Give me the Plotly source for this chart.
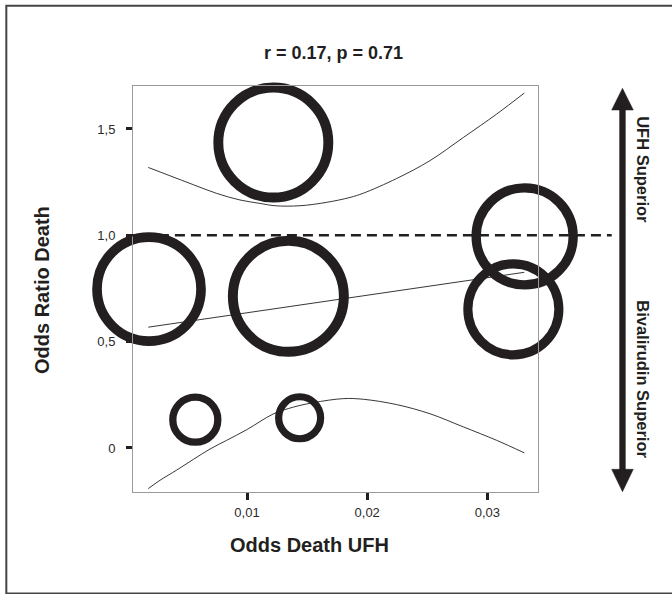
import plotly.graph_objects as go

# ---- data ----
odds_death_ufh = [0.01219, 0.00185, 0.01344, 0.00570, 0.01438, 0.03310, 0.03216]
odds_ratio_death = [1.436, 0.747, 0.713, 0.133, 0.142, 0.995, 0.652]
study_weight = [110, 104, 111, 45, 42, 97, 91]

fit_x = [0.00179, 0.03307]
fit_y = [0.568, 0.826]

ci_x = [0.00179, 0.00359, 0.00553, 0.00748, 0.00942, 0.01108, 0.01233, 0.01441,
        0.01663, 0.01857, 0.01968, 0.02245, 0.02522, 0.02800, 0.03077, 0.03307]
ci_upper = [1.319, 1.280, 1.238, 1.197, 1.166, 1.150, 1.139, 1.139,
            1.155, 1.178, 1.198, 1.267, 1.351, 1.460, 1.570, 1.669]
ci_lo_x = [0.00179, 0.00276, 0.00415, 0.00553, 0.00692, 0.00831, 0.00998, 0.01219, 0.01385,
           0.01552, 0.01801, 0.01968, 0.02245, 0.02522, 0.02800, 0.03077, 0.03307]
ci_lower = [-0.191, -0.152, -0.104, -0.054, -0.005, 0.036, 0.086, 0.160, 0.192,
            0.213, 0.232, 0.229, 0.204, 0.161, 0.099, 0.036, -0.023]

x_tickvals = [0.01, 0.02, 0.03]
x_ticktext = ["0,01", "0,02", "0,03"]
y_tickvals = [0, 0.5, 1.0, 1.5]
y_ticktext = ["0", "0,5", "1,0", "1,5"]
reference_or = 1.0

title_text = "r = 0.17, p = 0.71"
x_title = "Odds Death UFH"
y_title = "Odds Ratio Death"
upper_label = "UFH Superior"
lower_label = "Bivalirudin Superior"

# ---- styling ----
INK = "#231f20"
FONT = "Liberation Sans, Arial, sans-serif"
x_range = [0.000516, 0.03421]
y_range = [-0.207, 1.702]

fig = go.Figure()

for cx, cy in [(ci_x, ci_upper), (ci_lo_x, ci_lower), (fit_x, fit_y)]:
    fig.add_trace(go.Scatter(
        x=cx, y=cy, mode="lines",
        line=dict(color=INK, width=0.9, shape="spline", smoothing=1.0),
        hoverinfo="skip", showlegend=False))

fig.add_trace(go.Scatter(
    x=odds_death_ufh, y=odds_ratio_death, mode="markers",
    marker=dict(
        size=study_weight, sizemode="diameter", opacity=1,
        color="rgba(0,0,0,0)",
        line=dict(color=INK, width=[5.5 + w * 0.04 for w in study_weight]),
    ),
    cliponaxis=False, showlegend=False))

# reference line at OR = 1 (extends to the arrow)
y_ref_paper = (reference_or - y_range[0]) / (y_range[1] - y_range[0])
shapes = [
    dict(type="line", xref="paper", yref="paper", x0=-0.015, x1=1.182,
         y0=y_ref_paper, y1=y_ref_paper,
         line=dict(color=INK, width=2.6, dash="10px,6px")),
    # double arrow shaft
    dict(type="line", xref="paper", yref="paper", x0=1.2086, x1=1.2086,
         y0=0.05, y1=0.947, line=dict(color=INK, width=6.3)),
    # arrow heads
    dict(type="path", xref="paper", yref="paper",
         path="M 1.1819 0.9409 L 1.2353 0.9409 L 1.2086 0.9943 Z",
         fillcolor=INK, line=dict(color=INK, width=0.5)),
    dict(type="path", xref="paper", yref="paper",
         path="M 1.1819 0.0559 L 1.2353 0.0559 L 1.2086 0.0007 Z",
         fillcolor=INK, line=dict(color=INK, width=0.5)),
    # outer frame
    dict(type="rect", xref="paper", yref="paper", x0=-0.3128, x1=1.345,
         y0=-0.2497, y1=1.1975, line=dict(color="#444444", width=2)),
]

def label(text, x, y, size, angle=0):
    return dict(text="<b>%s</b>" % text, x=x, y=y, xref="paper", yref="paper",
                xanchor="center", yanchor="middle", showarrow=False,
                textangle=angle, font=dict(size=size, color=INK, family=FONT))

annotations = [
    label(title_text, 0.496, 1.082, 18),
    label(x_title, 0.437, -0.1305, 20),
    label(y_title, -0.2247, 0.4975, 20, -90),
    label(upper_label, 1.259, 0.793, 16.5, 90),
    label(lower_label, 1.259, 0.278, 16.5, 90),
]

axis_common = dict(
    showgrid=False, zeroline=False, showline=True, linecolor="#9a9a9a", linewidth=1,
    mirror=True, ticks="outside", tickcolor=INK, tickwidth=3,
    tickfont=dict(size=13, color="#2a2a2a", family=FONT),
)

fig.update_layout(
    width=672, height=594,
    margin=dict(l=133, r=134, t=86, b=102),
    paper_bgcolor="white", plot_bgcolor="white",
    font=dict(family=FONT, color=INK),
    xaxis=dict(range=x_range, tickvals=x_tickvals, ticktext=x_ticktext,
               ticklen=7, ticklabelstandoff=1, **axis_common),
    yaxis=dict(range=y_range, tickvals=y_tickvals, ticktext=y_ticktext,
               ticklen=6, ticklabelstandoff=8, **axis_common),
    shapes=shapes, annotations=annotations, showlegend=False,
)

fig.write_html("out.html", config={"displayModeBar": False},
               post_script="document.body.style.margin='0';")
